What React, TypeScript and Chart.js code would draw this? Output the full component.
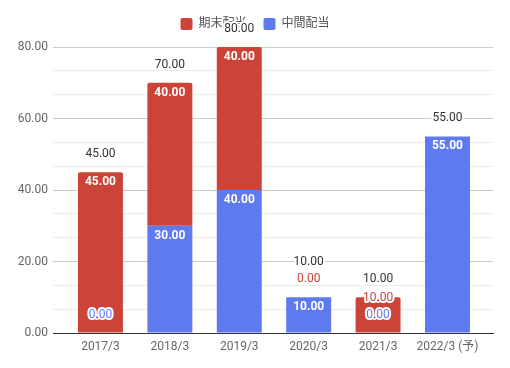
import React, { useEffect, useRef } from "react";
import { Chart, registerables } from "chart.js";

Chart.register(...registerables);

// ---- data ----
const categories = ["2017/3", "2018/3", "2019/3", "2020/3", "2021/3", "2022/3 (予)"];
const interimDividend: (number | null)[] = [0, 30, 40, 10, 0, 55];
const yearEndDividend: (number | null)[] = [45, 40, 40, 0, 10, null];
const seriesInterim = "中間配当";
const seriesYearEnd = "期末配当";
const yMin = 0;
const yMax = 80;
const yLabelStep = 20;
const yGridStep = 20 / 3;

const RED = "#CC4438";
const BLUE = "#5F7AF0";
const FONT = "Roboto, 'Noto Sans CJK JP', Arial, sans-serif";

const toPoints = (arr: (number | null)[]) => arr.map((v, i) => ({ x: i, y: v }));

const legendFullWidth = {
  id: "legendFullWidth",
  afterInit(chart: any) {
    const lg = chart.legend;
    if (lg && !lg.__patched) {
      const f = lg.fit.bind(lg);
      lg.fit = () => {
        f();
        lg.height += 7;
      };
      lg.__patched = true;
    }
  },
  beforeDraw(chart: any) {
    const lg = chart.legend;
    if (lg) {
      lg.left = 0;
      lg.right = chart.width;
      lg.width = chart.width;
    }
  },
};

const stackLabels = {
  id: "stackLabels",
  afterDatasetsDraw(chart: any) {
    const ctx = chart.ctx as CanvasRenderingContext2D;
    const xs = chart.scales.x;
    const ys = chart.scales.y;
    const draw = (text: string, x: number, y: number, inside: boolean, color: string) => {
      ctx.save();
      ctx.textAlign = "center";
      ctx.textBaseline = "middle";
      if (inside) {
        ctx.font = `bold 12px ${FONT}`;
        ctx.fillStyle = "#fff";
        ctx.fillText(text, x, y);
      } else {
        ctx.font = `12px ${FONT}`;
        ctx.lineJoin = "round";
        ctx.lineWidth = 4;
        ctx.strokeStyle = "#fff";
        ctx.strokeText(text, x, y);
        ctx.fillStyle = color;
        ctx.fillText(text, x, y);
      }
      ctx.restore();
    };
    categories.forEach((_, i) => {
      const x = xs.getPixelForValue(i);
      let cum = 0;
      let lastY = Infinity;
      chart.data.datasets.forEach((ds: any) => {
        const v = ds.data[i]?.y;
        if (v == null) return;
        const top = ys.getPixelForValue(cum + v);
        const bottom = ys.getPixelForValue(cum);
        let inside = v > 0 && bottom - top >= 18;
        let y = inside ? top + 10 : top - 18;
        if (y > lastY - 17) {
          y = lastY - 17;
          inside = false;
        }
        draw(v.toFixed(2), x, y, inside, ds.backgroundColor);
        lastY = y;
        cum += v;
      });
      let ty = ys.getPixelForValue(cum) - 18;
      if (ty > lastY - 17) ty = lastY - 17;
      draw(cum.toFixed(2), x, ty, false, "#333");
    });
  },
};

export default function App() {
  const ref = useRef<HTMLCanvasElement | null>(null);
  useEffect(() => {
    document.body.style.margin = "0";
    const canvas = ref.current!;
    const chart = new Chart(canvas, {
      type: "bar",
      data: {
        datasets: [
          {
            label: seriesInterim,
            data: toPoints(interimDividend) as any,
            backgroundColor: BLUE,
            borderWidth: 0,
            borderRadius: 0,
          },
          {
            label: seriesYearEnd,
            data: toPoints(yearEndDividend) as any,
            backgroundColor: RED,
            borderWidth: 0,
            borderRadius: { topLeft: 2, topRight: 2, bottomLeft: 0, bottomRight: 0 },
            borderSkipped: "start",
          },
        ],
      },
      options: {
        responsive: false,
        animation: false,
        events: [],
        barPercentage: 0.648,
        categoryPercentage: 1,
        layout: { padding: { top: 1, right: 17, left: 0, bottom: 0 } },
        plugins: {
          tooltip: { enabled: false },
          legend: {
            position: "top",
            reverse: true,
            labels: {
              boxWidth: 12,
              boxHeight: 12,
              padding: 17,
              color: "#555",
              useBorderRadius: true,
              borderRadius: 2,
              font: { family: FONT, size: 12 },
            },
          },
        },
        scales: {
          x: {
            type: "linear",
            stacked: true,
            offset: false,
            min: -0.684,
            max: 5.656,
            afterBuildTicks: (scale: any) => {
              scale.ticks = categories.map((_, i) => ({ value: i }));
            },
            afterFit: (scale: any) => {
              scale.height = 35;
            },
            grid: { display: false, drawTicks: false, offset: false },
            border: { display: true, color: "#333", width: 1 },
            ticks: {
              padding: 7,
              color: "#666",
              font: { family: FONT, size: 12 },
              callback: (v: any) => categories[Math.round(Number(v))] ?? "",
              maxRotation: 0,
              autoSkip: false,
            },
          },
          y: {
            stacked: true,
            min: yMin,
            max: yMax,
            afterBuildTicks: (scale: any) => {
              const t: any[] = [];
              const n = Math.round((yMax - yMin) / yGridStep);
              for (let k = 0; k <= n; k++) t.push({ value: yMin + k * yGridStep });
              scale.ticks = t;
            },
            afterFit: (scale: any) => {
              scale.width = 53;
            },
            border: { display: false },
            grid: {
              drawTicks: false,
              color: (c: any) => {
                const v = c.tick?.value ?? 0;
                if (Math.abs(v) < 1e-6) return "#333";
                const r = v / yLabelStep;
                return Math.abs(r - Math.round(r)) < 1e-6 ? "#cccccc" : "#ebebeb";
              },
            },
            ticks: {
              padding: 5,
              color: "#666",
              font: { family: FONT, size: 12 },
              autoSkip: false,
              callback: (v: any) => {
                const r = Number(v) / yLabelStep;
                return Math.abs(r - Math.round(r)) < 1e-6 ? (Math.round(r) * yLabelStep).toFixed(2) : "";
              },
            },
          },
        },
      },
      plugins: [legendFullWidth, stackLabels],
    } as any);
    return () => chart.destroy();
  }, []);
  return (
    <div style={{ width: 510, height: 368 }}>
      <canvas ref={ref} width={510} height={368} />
    </div>
  );
}
